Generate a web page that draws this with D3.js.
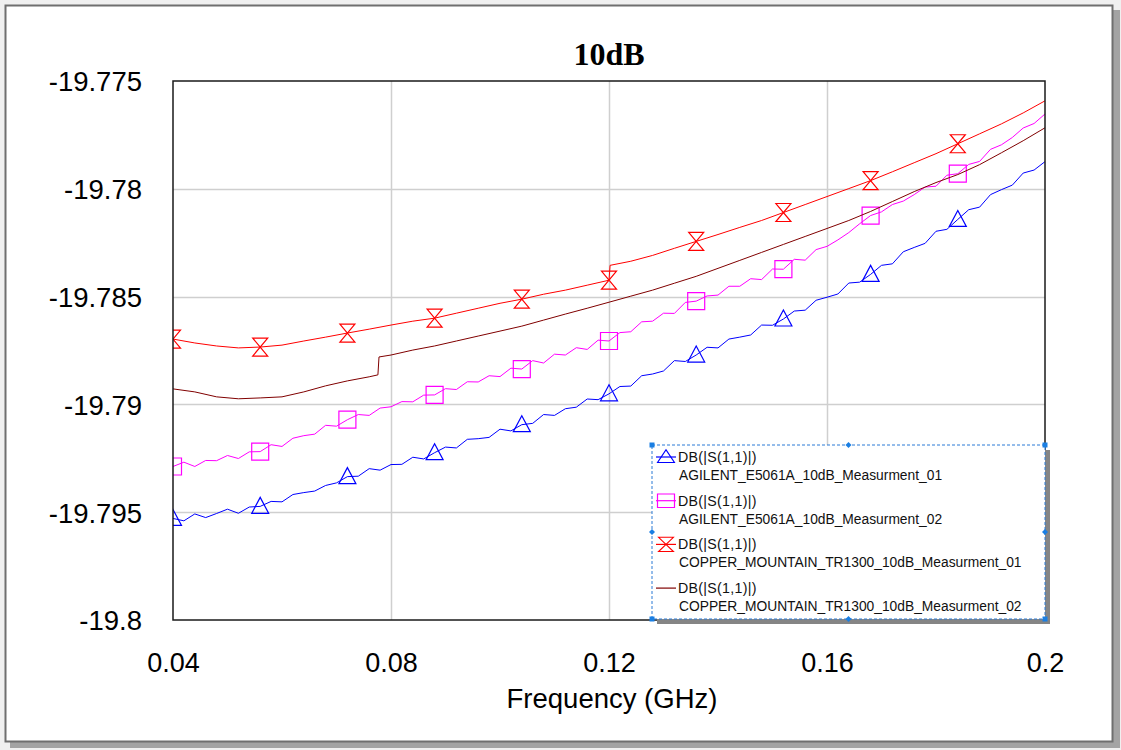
<!DOCTYPE html>
<html>
<head>
<meta charset="utf-8">
<script src="https://cdn.jsdelivr.net/npm/d3@7"></script>
<style>
  html, body { margin: 0; padding: 0; background: #f0f0f0; }
  svg { display: block; }
</style>
</head>
<body>
<svg id="chart" width="1121" height="750"></svg>
<script>
// ---------------- DATA ----------------
const title = "10dB";
const xAxisLabel = "Frequency (GHz)";
const xTicks = [0.04, 0.08, 0.12, 0.16, 0.2];
const xTickLabels = ["0.04", "0.08", "0.12", "0.16", "0.2"];
const yTicks = [-19.775, -19.78, -19.785, -19.79, -19.795, -19.8];
const yTickLabels = ["-19.775", "-19.78", "-19.785", "-19.79", "-19.795", "-19.8"];
const markerFreqs = [0.04, 0.056, 0.072, 0.088, 0.104, 0.12, 0.136, 0.152, 0.168, 0.184];

const legendTop = ["DB(|S(1,1)|)", "DB(|S(1,1)|)", "DB(|S(1,1)|)", "DB(|S(1,1)|)"];
const seriesNames = [
  "AGILENT_E5061A_10dB_Measurment_01",
  "AGILENT_E5061A_10dB_Measurment_02",
  "COPPER_MOUNTAIN_TR1300_10dB_Measurment_01",
  "COPPER_MOUNTAIN_TR1300_10dB_Measurment_02"
];

// sampling grid for the two Agilent traces (0.040 .. 0.200 GHz, 0.002 GHz step)
const agilentFreq = d3.range(81).map(i => +(0.04 + i * 0.002).toFixed(3));

const agilent01 = [
  -19.79529, -19.79540, -19.79508, -19.79525, -19.79506, -19.79486, -19.79505, -19.79476,
  -19.79473, -19.79450, -19.79452, -19.79418, -19.79409, -19.79402, -19.79376, -19.79364,
  -19.79335, -19.79333, -19.79298, -19.79305, -19.79279, -19.79278, -19.79245, -19.79253,
  -19.79224, -19.79198, -19.79202, -19.79162, -19.79159, -19.79153, -19.79115, -19.79123,
  -19.79094, -19.79088, -19.79047, -19.79051, -19.79020, -19.79013, -19.78975, -19.78978,
  -19.78951, -19.78917, -19.78915, -19.78867, -19.78859, -19.78845, -19.78797, -19.78801,
  -19.78771, -19.78735, -19.78738, -19.78697, -19.78688, -19.78678, -19.78632, -19.78633,
  -19.78604, -19.78567, -19.78563, -19.78517, -19.78503, -19.78488, -19.78437, -19.78433,
  -19.78397, -19.78355, -19.78348, -19.78292, -19.78272, -19.78253, -19.78197, -19.78188,
  -19.78142, -19.78097, -19.78085, -19.78027, -19.78004, -19.77983, -19.77927, -19.77913,
  -19.77874
];

const agilent02 = [
  -19.79288, -19.79268, -19.79288, -19.79260, -19.79261, -19.79237, -19.79251, -19.79220,
  -19.79219, -19.79187, -19.79195, -19.79157, -19.79145, -19.79138, -19.79097, -19.79101,
  -19.79071, -19.79047, -19.79051, -19.79017, -19.79011, -19.78987, -19.78988, -19.78957,
  -19.78956, -19.78927, -19.78931, -19.78895, -19.78896, -19.78867, -19.78871, -19.78832,
  -19.78836, -19.78797, -19.78808, -19.78767, -19.78771, -19.78737, -19.78745, -19.78702,
  -19.78706, -19.78667, -19.78663, -19.78617, -19.78614, -19.78577, -19.78578, -19.78527,
  -19.78521, -19.78497, -19.78493, -19.78452, -19.78452, -19.78417, -19.78421, -19.78372,
  -19.78373, -19.78327, -19.78331, -19.78282, -19.78267, -19.78237, -19.78203, -19.78162,
  -19.78124, -19.78107, -19.78073, -19.78057, -19.78027, -19.77992, -19.77988, -19.77937,
  -19.77930, -19.77887, -19.77873, -19.77817, -19.77796, -19.77762, -19.77718, -19.77697,
  -19.77653
];

const copper01Freq = [
  0.040, 0.044, 0.048, 0.052, 0.056, 0.060, 0.064, 0.068, 0.072, 0.076, 0.080, 0.084,
  0.088, 0.092, 0.096, 0.100, 0.104, 0.108, 0.112, 0.116, 0.120, 0.1202, 0.124, 0.128,
  0.132, 0.136, 0.140, 0.144, 0.148, 0.152, 0.156, 0.160, 0.164, 0.168, 0.172, 0.176,
  0.180, 0.184, 0.188, 0.192, 0.196, 0.200
];
const copper01 = [
  -19.78697, -19.78715, -19.78729, -19.78738, -19.78734, -19.78725, -19.78706, -19.78688,
  -19.78669, -19.78651, -19.78632, -19.78614, -19.78600, -19.78577, -19.78554, -19.78531,
  -19.78512, -19.78489, -19.78470, -19.78447, -19.78424, -19.78355, -19.78336, -19.78309,
  -19.78276, -19.78244, -19.78212, -19.78179, -19.78147, -19.78110, -19.78073, -19.78036,
  -19.77999, -19.77962, -19.77921, -19.77879, -19.77837, -19.77791, -19.77745, -19.77699,
  -19.77648, -19.77592
];

const copper02Freq = [
  0.040, 0.044, 0.048, 0.052, 0.056, 0.060, 0.064, 0.068, 0.072, 0.076, 0.0776, 0.0778,
  0.080, 0.084, 0.088, 0.092, 0.096, 0.100, 0.104, 0.108, 0.112, 0.116, 0.120, 0.124,
  0.128, 0.132, 0.136, 0.140, 0.144, 0.148, 0.152, 0.156, 0.160, 0.164, 0.168, 0.172,
  0.176, 0.180, 0.184, 0.188, 0.192, 0.196, 0.200
];
const copper02 = [
  -19.78928, -19.78942, -19.78965, -19.78974, -19.78970, -19.78965, -19.78942, -19.78914,
  -19.78891, -19.78872, -19.78863, -19.78780, -19.78771, -19.78748, -19.78729, -19.78706,
  -19.78683, -19.78660, -19.78637, -19.78609, -19.78581, -19.78554, -19.78526, -19.78498,
  -19.78470, -19.78438, -19.78406, -19.78369, -19.78332, -19.78295, -19.78258, -19.78221,
  -19.78184, -19.78147, -19.78105, -19.78059, -19.78013, -19.77971, -19.77934, -19.77888,
  -19.77833, -19.77777, -19.77717
];

const seriesColors = ["#0000ff", "#ff00ff", "#ff0000", "#800000"];
const seriesMarkers = ["triangle", "square", "hourglass", "none"];

// ---------------- CHART ----------------
const series = [
  { freq: agilentFreq, vals: agilent01 },
  { freq: agilentFreq, vals: agilent02 },
  { freq: copper01Freq, vals: copper01 },
  { freq: copper02Freq, vals: copper02 }
].map((s, i) => ({
  name: seriesNames[i],
  color: seriesColors[i],
  marker: seriesMarkers[i],
  points: s.freq.map((f, j) => ({ f: f, v: s.vals[j] }))
}));

const svg = d3.select("#chart");
const plot = { left: 173, right: 1045, top: 81, bottom: 620 };

// window frame with shadow
svg.append("rect").attr("x", 10).attr("y", 10).attr("width", 1110).attr("height", 738).attr("fill", "#a3a3a3");
svg.append("rect").attr("x", 5.5).attr("y", 5.5).attr("width", 1107).attr("height", 736)
  .attr("fill", "#ffffff").attr("stroke", "#6f6f6f").attr("stroke-width", 2);

const x = d3.scaleLinear().domain([0.04, 0.2]).range([plot.left, plot.right]);
const y = d3.scaleLinear().domain([-19.8, -19.775]).range([plot.bottom, plot.top]);

// grid
const grid = svg.append("g");
grid.selectAll("line.vx").data(xTicks.slice(1, -1)).join("line")
  .attr("x1", d => Math.round(x(d)) + 0.5).attr("x2", d => Math.round(x(d)) + 0.5)
  .attr("y1", plot.top).attr("y2", plot.bottom)
  .attr("stroke", "#cfcfcf").attr("stroke-width", 1.5);
grid.selectAll("line.hy").data(yTicks.slice(1, -1)).join("line")
  .attr("y1", d => Math.round(y(d)) + 0.5).attr("y2", d => Math.round(y(d)) + 0.5)
  .attr("x1", plot.left).attr("x2", plot.right)
  .attr("stroke", "#cfcfcf").attr("stroke-width", 1.5);

// axes (labels only, via d3 axes)
const xAxis = d3.axisBottom(x).tickValues(xTicks).tickFormat((d, i) => xTickLabels[i]).tickSize(0).tickPadding(0);
const gx = svg.append("g").attr("transform", `translate(0,${plot.bottom})`).call(xAxis);
gx.select(".domain").remove();
gx.selectAll("text").attr("font-family", "'Liberation Sans', Arial, sans-serif")
  .attr("font-size", 27).attr("fill", "#000").attr("dy", null).attr("y", 52);

const yAxis = d3.axisLeft(y).tickValues(yTicks).tickFormat((d, i) => yTickLabels[i]).tickSize(0).tickPadding(0);
const gy = svg.append("g").attr("transform", `translate(${plot.left - 31},0)`).call(yAxis);
gy.select(".domain").remove();
gy.selectAll("text").attr("font-family", "'Liberation Sans', Arial, sans-serif")
  .attr("font-size", 27.5).attr("fill", "#000").attr("dy", "0.36em");

// title and axis label
svg.append("text").attr("x", 609).attr("y", 65).attr("text-anchor", "middle")
  .attr("font-family", "'Liberation Serif', 'Times New Roman', serif").attr("font-weight", "bold")
  .attr("font-size", 32).attr("fill", "#000").text(title);
svg.append("text").attr("x", 612).attr("y", 708).attr("text-anchor", "middle")
  .attr("font-family", "'Liberation Sans', Arial, sans-serif")
  .attr("font-size", 27.5).attr("fill", "#000").text(xAxisLabel);

// clip
svg.append("clipPath").attr("id", "plotclip").append("rect")
  .attr("x", plot.left).attr("y", plot.top)
  .attr("width", plot.right - plot.left).attr("height", plot.bottom - plot.top);

function markerPath(type) {
  if (type === "triangle") return "M0,-9L8.5,7L-8.5,7Z";
  if (type === "square") return "M-8.5,-8.5H8.5V8.5H-8.5Z";
  if (type === "hourglass") return "M-7.5,-9H7.5L-7.5,9H7.5Z";
  return "";
}

const line = d3.line().x(d => x(d.f)).y(d => y(d.v));
const dataG = svg.append("g").attr("clip-path", "url(#plotclip)");
series.forEach(s => {
  dataG.append("path").datum(s.points)
    .attr("d", line).attr("fill", "none")
    .attr("stroke", s.color).attr("stroke-width", 1).attr("stroke-linejoin", "round");
  if (s.marker !== "none") {
    const mp = s.points.filter(p => markerFreqs.some(m => Math.abs(m - p.f) < 1e-9));
    dataG.selectAll(null).data(mp).join("path")
      .attr("transform", d => `translate(${x(d.f)},${y(d.v)})`)
      .attr("d", markerPath(s.marker))
      .attr("fill", "none").attr("stroke", s.color).attr("stroke-width", 1.2);
  }
});

// plot border
svg.append("rect").attr("x", plot.left).attr("y", plot.top)
  .attr("width", plot.right - plot.left).attr("height", plot.bottom - plot.top)
  .attr("fill", "none").attr("stroke", "#1a1a1a").attr("stroke-width", 1.5);

// legend
const lg = { x: 652, y: 445, w: 393, h: 174 };
svg.append("rect").attr("x", lg.x + 5).attr("y", lg.y + 5).attr("width", lg.w).attr("height", lg.h).attr("fill", "#858585");
svg.append("rect").attr("x", lg.x).attr("y", lg.y).attr("width", lg.w).attr("height", lg.h)
  .attr("fill", "#ffffff").attr("stroke", "#2b7bd6").attr("stroke-width", 1).attr("stroke-dasharray", "3,2");

const items = svg.append("g").selectAll("g").data(series).join("g")
  .attr("transform", (d, i) => `translate(${lg.x},${lg.y + 12 + i * 43.7})`);
items.append("line").attr("x1", 4).attr("x2", 24).attr("y1", 0).attr("y2", 0)
  .attr("stroke", d => d.color).attr("stroke-width", 1.2);
items.append("path").attr("transform", "translate(14,0) scale(1,0.8)")
  .attr("d", d => markerPath(d.marker)).attr("fill", "none")
  .attr("stroke", d => d.color).attr("stroke-width", 1.2);
items.append("text").attr("x", 26).attr("y", 5)
  .attr("font-family", "'Liberation Sans', Arial, sans-serif").attr("font-size", 14.2).attr("fill", "#111")
  .attr("letter-spacing", 0.3)
  .text((d, i) => legendTop[i]);
items.append("text").attr("x", 27).attr("y", 23)
  .attr("font-family", "'Liberation Sans', Arial, sans-serif").attr("font-size", 13.8).attr("fill", "#111")
  .text(d => d.name);

// selection handles
const hx = [lg.x, lg.x + lg.w / 2, lg.x + lg.w];
const hy = [lg.y, lg.y + lg.h / 2, lg.y + lg.h];
const handles = [];
hx.forEach((hxv, i) => hy.forEach((hyv, j) => { if (!(i === 1 && j === 1)) handles.push({ x: hxv, y: hyv, corner: i !== 1 && j !== 1 }); }));
svg.append("g").selectAll("path").data(handles).join("path")
  .attr("transform", d => `translate(${d.x},${d.y})`)
  .attr("d", d => d.corner ? "M-2.5,-2.5H2.5V2.5H-2.5Z" : "M0,-3L3,0L0,3L-3,0Z")
  .attr("fill", "#1a7fe3");
</script>
</body>
</html>
